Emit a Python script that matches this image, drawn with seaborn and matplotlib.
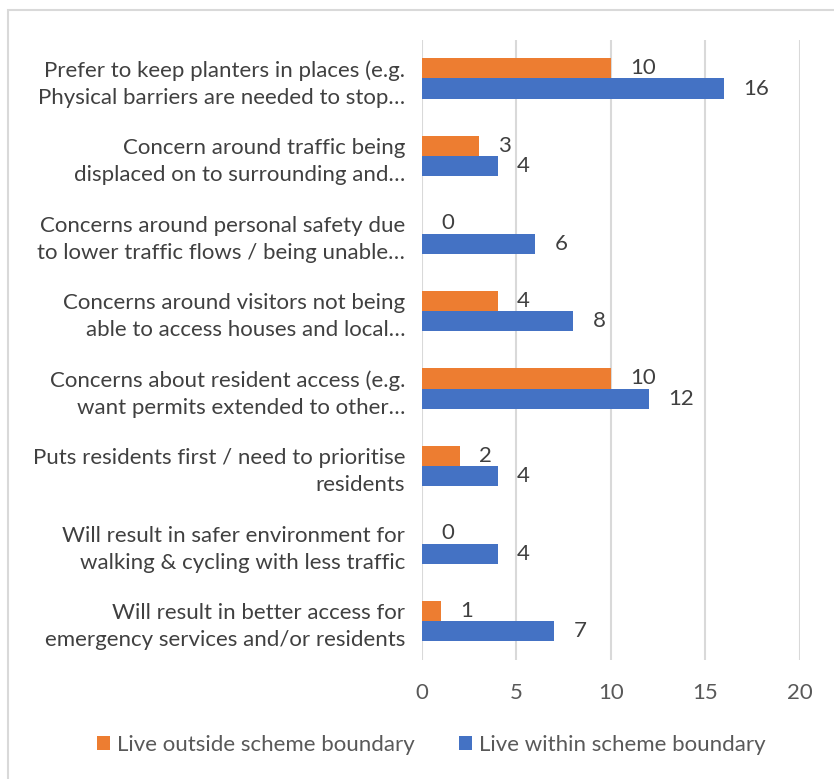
import matplotlib
matplotlib.use("Agg")
import matplotlib.pyplot as plt
from matplotlib.patches import Patch, Rectangle
import seaborn as sns
import pandas as pd

categories = [
    "Prefer to keep planters in places (e.g.\nPhysical barriers are needed to stop\u2026",
    "Concern around traffic being\ndisplaced on to surrounding and\u2026",
    "Concerns around personal safety due\nto lower traffic flows / being unable\u2026",
    "Concerns around visitors not being\nable to access houses and local\u2026",
    "Concerns about resident access (e.g.\nwant permits extended to other\u2026",
    "Puts residents first / need to prioritise\nresidents",
    "Will result in safer environment for\nwalking & cycling with less traffic",
    "Will result in better access for\nemergency services and/or residents",
]
outside_values = [10, 3, 0, 4, 10, 2, 0, 1]
within_values = [16, 4, 6, 8, 12, 4, 4, 7]
series_names = ["Live outside scheme boundary", "Live within scheme boundary"]
x_ticks = [0, 5, 10, 15, 20]

colors = ["#ED7D31", "#4472C4"]

df = pd.DataFrame({
    "category": categories * 2,
    "value": outside_values + within_values,
    "series": [series_names[0]] * len(categories) + [series_names[1]] * len(categories),
})

sns.set_theme(style="white")
plt.rcParams["font.family"] = ["Lato", "DejaVu Sans"]

fig = plt.figure(figsize=(8.34, 7.79), dpi=100)
ax = fig.add_axes([0.506, 0.153, 0.453, 0.796])

sns.barplot(data=df, y="category", x="value", hue="series", hue_order=series_names,
            palette=colors, orient="h", width=0.52, ax=ax, legend=False,
            edgecolor="none", saturation=1)

ax.set_xlim(0, 20)
ax.set_xticks(x_ticks)
ax.set_xlabel("")
ax.set_ylabel("")
ax.grid(axis="x", color="#D9D9D9", linewidth=1.5)
ax.set_axisbelow(True)
for s in ax.spines.values():
    s.set_visible(False)
ax.tick_params(axis="x", length=0, pad=17, labelsize=16, labelcolor="#595959")
ax.tick_params(axis="y", length=0, pad=12, labelsize=16, labelcolor="#404040")
for lbl in ax.get_yticklabels():
    lbl.set_horizontalalignment("right")
    lbl.set_linespacing(1.45)

for cont in ax.containers:
    ax.bar_label(cont, padding=14, fontsize=16, color="#404040")

handles = [Patch(facecolor=c, edgecolor="none") for c in colors]
fig.legend(handles, series_names, loc="center", bbox_to_anchor=(0.517, 0.044),
           ncol=2, frameon=False, fontsize=16, handlelength=0.6, handleheight=0.6,
           handletextpad=0.3, columnspacing=2.0, labelcolor="#595959")

fig.patches.append(Rectangle((8 / 834, -0.01), 1.0, 1 - 10 / 779 + 0.01,
                             transform=fig.transFigure, fill=False,
                             edgecolor="#D9D9D9", linewidth=1.5))

fig.savefig("out.png", dpi=100, facecolor="white")
